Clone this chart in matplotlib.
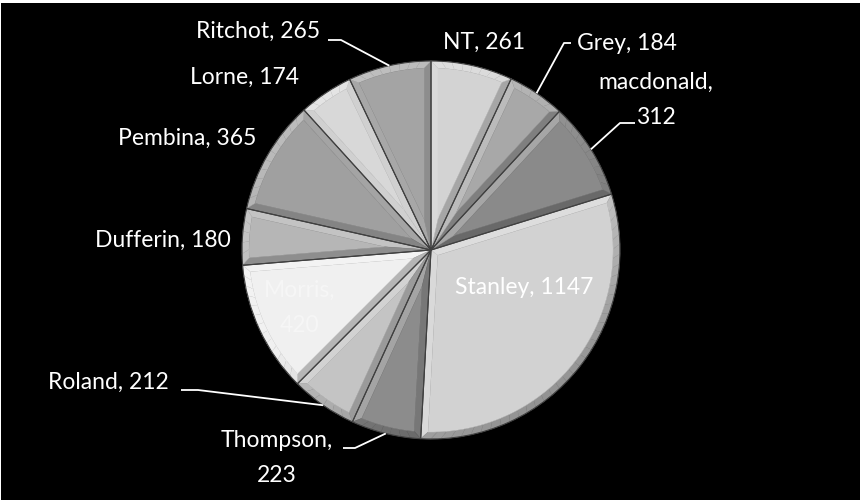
import numpy as np
import matplotlib.pyplot as plt
from matplotlib.colors import to_rgb
from matplotlib.patches import Polygon, Rectangle

# votes by division, clockwise from 12 o'clock
names = ["NT", "Grey", "macdonald", "Stanley", "Thompson", "Roland",
         "Morris", "Dufferin", "Pembina", "Lorne", "Ritchot"]
values = [261, 184, 312, 1147, 223, 212, 420, 180, 365, 174, 265]
shades = ["#d3d3d3", "#a8a8a8", "#8a8a8a", "#d2d2d2", "#8c8c8c", "#c4c4c4",
          "#f0f0f0", "#b6b6b6", "#a0a0a0", "#d8d8d8", "#a4a4a4"]

# label layout in pixels (x, y from top), line breaks, leader elbows
label_pos = {
    "NT": (484, 42), "Grey": (627, 43), "macdonald": (656, 100),
    "Stanley": (524, 287), "Thompson": (277, 458), "Roland": (108, 382),
    "Morris": (300, 308), "Dufferin": (163, 240), "Pembina": (187, 138),
    "Lorne": (245, 77), "Ritchot": (258, 31),
}
wrapped = {"macdonald", "Morris", "Thompson"}
leaders = {
    "Ritchot": [(328, 40), (341, 40)],
    "Grey": [(571, 43), (564, 43)],
    "macdonald": [(635, 123), (620, 123)],
    "Roland": [(181, 390), (198, 390)],
    "Thompson": [(343, 448), (355, 448)],
}

W, H = 860, 500
cx, cy, R = 431, 250, 189
bevel = 7
light = np.array([-0.55, 0.83])
light = light / np.linalg.norm(light)

plt.rcParams['font.family'] = ['Lato', 'DejaVu Sans']

fig = plt.figure(figsize=(8.6, 5.0), dpi=100, facecolor="black")
ax = fig.add_axes([0, 0, 1, 1])
ax.set_facecolor("black")
ax.set_xlim(0, W)
ax.set_ylim(0, H)
ax.set_aspect("equal")
ax.axis("off")


def py(y):
    return H - y


def unit(a):
    return np.array([np.cos(a), np.sin(a)])


def lit(color, normal, k):
    rgb = np.array(to_rgb(color))
    t = float(np.dot(normal, light)) * k
    if t > 0:
        rgb = rgb + (1 - rgb) * t
    else:
        rgb = rgb * (1 + t)
    return tuple(np.clip(rgb, 0, 1))


wedges, _ = ax.pie(values, colors=shades, startangle=90, counterclock=False,
                   center=(cx, py(cy)), radius=R, frame=False,
                   wedgeprops=dict(linewidth=0.8, edgecolor="#404040"))
ax.set_xlim(0, W)
ax.set_ylim(0, H)

c = np.array([cx, py(cy)], dtype=float)
for w, col in zip(wedges, shades):
    t1, t2 = np.radians(w.theta1), np.radians(w.theta2)
    half = (t2 - t1) / 2
    apex = c + bevel / np.sin(half) * unit((t1 + t2) / 2)
    dlt = np.arcsin(bevel / (R - bevel))
    p1_out, p2_out = c + R * unit(t1), c + R * unit(t2)
    p1_in = c + (R - bevel) * unit(t1 + dlt)
    p2_in = c + (R - bevel) * unit(t2 - dlt)
    kw = dict(closed=True, linewidth=0.3, zorder=2)
    # side strips of the bevel
    n1 = unit(t1 - np.pi / 2)
    ax.add_patch(Polygon([c, p1_out, p1_in, apex], facecolor=lit(col, n1, 0.25),
                         edgecolor=lit(col, n1, 0.25), **kw))
    n2 = unit(t2 + np.pi / 2)
    ax.add_patch(Polygon([c, apex, p2_in, p2_out], facecolor=lit(col, n2, 0.25),
                         edgecolor=lit(col, n2, 0.25), **kw))
    # rim strip, shaded piece by piece
    nseg = max(4, int(np.degrees(t2 - t1) / 3))
    s = np.linspace(0, 1, nseg + 1)
    ao = t1 + s * (t2 - t1)
    ai = (t1 + dlt) + s * (t2 - t1 - 2 * dlt)
    for i in range(nseg):
        quad = [c + R * unit(ao[i]), c + R * unit(ao[i + 1]),
                c + (R - bevel) * unit(ai[i + 1]), c + (R - bevel) * unit(ai[i])]
        nm = unit((ao[i] + ao[i + 1]) / 2)
        ax.add_patch(Polygon(quad, facecolor=lit(col, nm, 0.3),
                             edgecolor=lit(col, nm, 0.3), **kw))
    # flat top face
    arc = [c + (R - bevel) * unit(a) for a in np.linspace(t1 + dlt, t2 - dlt, 60)]
    ax.add_patch(Polygon([apex] + arc, facecolor=col, edgecolor=col, **kw))
    w.set_facecolor("none")
    w.set_zorder(3)

# labels and leader lines
for name, val in zip(names, values):
    sep = "\n" if name in wrapped else " "
    x, y = label_pos[name]
    tcol = "#f6f6f6" if name == "Morris" else "white"
    ax.text(x, py(y), f"{name},{sep}{val}", color=tcol, fontsize=16.5,
            ha="center", va="center", linespacing=1.8, zorder=5)

for w, name in zip(wedges, names):
    if name not in leaders:
        continue
    mid = np.radians((w.theta1 + w.theta2) / 2)
    tip = c + R * unit(mid)
    pts = [(x, py(y)) for x, y in leaders[name]] + [tuple(tip)]
    ax.plot([p[0] for p in pts], [p[1] for p in pts], color="white",
            linewidth=1.3, zorder=4, solid_capstyle="butt")

# thin white strip along the top and left edges
fig.patches.append(Rectangle((0, 1 - 3 / H), 1, 3 / H, transform=fig.transFigure,
                             facecolor="white", edgecolor="none"))
fig.patches.append(Rectangle((0, 0), 1 / W, 1, transform=fig.transFigure,
                             facecolor="white", edgecolor="none"))

fig.savefig("out.png", dpi=100, facecolor="black")
